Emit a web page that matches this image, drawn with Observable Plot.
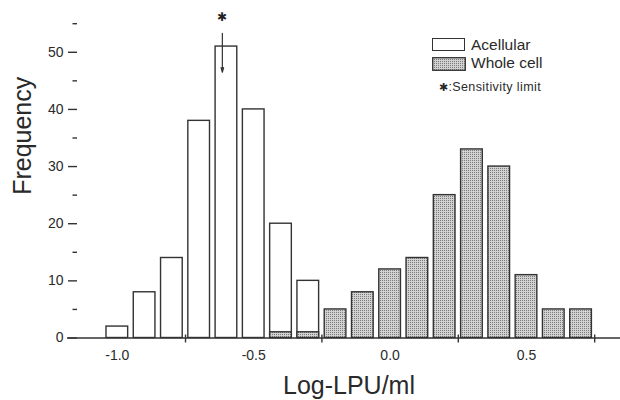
<!DOCTYPE html>
<html>
<head>
<meta charset="utf-8">
<script src="https://cdn.jsdelivr.net/npm/d3@7"></script>
<script src="https://cdn.jsdelivr.net/npm/@observablehq/plot@0.6"></script>
<style>
  html, body { margin: 0; padding: 0; background: white; }
  #wrap { position: relative; width: 620px; height: 400px; font-family: "Liberation Sans", Arial, sans-serif; color: #2a2a2a; }
  .box { position: absolute; width: 31px; height: 11px; border: 1.3px solid #333; background: white; }
  .sbox { position: absolute; }
  .lt { position: absolute; font-size: 15.5px; line-height: 1; white-space: nowrap; }
  .st { position: absolute; font-size: 12.5px; line-height: 1; white-space: nowrap; letter-spacing: 0.4px; }
</style>
</head>
<body>
<div id="wrap"></div>
<script>
// ---- data ----
const acellularBins = [-1.0, -0.9, -0.8, -0.7, -0.6, -0.5, -0.4, -0.3];
const acellularFreq = [2, 8, 14, 38, 51, 40, 20, 10];
const wholeCellBins = [-0.4, -0.3, -0.2, -0.1, 0.0, 0.1, 0.2, 0.3, 0.4, 0.5, 0.6, 0.7];
const wholeCellFreq = [1, 1, 5, 8, 12, 14, 25, 33, 30, 11, 5, 5];
const binWidth = 0.1;
const yMajorTicks = [0, 10, 20, 30, 40, 50];
const yMinorTicks = [5, 15, 25, 35, 45, 55];
const xLabelTicks = [-1.0, -0.5, 0.0, 0.5];
const xMarkTicks = [-0.75, -0.25, 0.25, 0.75];
const sensitivityLimit = -0.615;
const arrowFrom = 53.3, arrowTo = 46.5, starLevel = 56.2;
const seriesNames = ["Acellular", "Whole cell"];
const noteText = ":Sensitivity limit";

const aData = acellularBins.map((c, i) => ({c, v: acellularFreq[i]}));
const wData = wholeCellBins.map((c, i) => ({c, v: wholeCellFreq[i]}));

const barOpts = {
  x1: d => d.c - binWidth / 2, x2: d => d.c + binWidth / 2,
  y1: 0, y2: "v", insetLeft: 2.8, insetRight: 2.8,
  stroke: "#333", strokeWidth: 1.4
};

const plot = Plot.plot({
  width: 620, height: 400,
  marginLeft: 77, marginRight: 0, marginTop: 23.2, marginBottom: 62.5,
  x: {domain: [-1.146, 0.8446]},
  y: {domain: [0, 55]},
  style: {fontFamily: "'Liberation Sans', Arial, sans-serif", color: "#2a2a2a", background: "white", overflow: "visible"},
  marks: [
    Plot.rectY(aData, {...barOpts, fill: "white"}),
    Plot.rectY(wData, {...barOpts, fill: "url(#stipple)"}),
    Plot.ruleY([0], {insetLeft: -10, stroke: "#333", strokeWidth: 1.4}),
    Plot.axisY({ticks: yMajorTicks, tickSize: 9, tickPadding: 5, fontSize: 14, line: true, label: null, strokeWidth: 1.4, stroke: "#333"}),
    Plot.axisY({ticks: yMinorTicks, tickSize: 4.5, tickFormat: () => "", label: null, strokeWidth: 1.4, stroke: "#333"}),
    Plot.axisX({ticks: xLabelTicks, tickSize: 0, tickPadding: 12.5, tickFormat: d => d.toFixed(1), fontSize: 14, label: null}),
    Plot.axisX({ticks: xMarkTicks, tickSize: 8, dy: -3, tickFormat: () => "", label: null, strokeWidth: 1.4, stroke: "#333"}),
    Plot.text(["Frequency"], {text: d => d, frameAnchor: "left", rotate: -90, dx: -47, dy: 14, lineAnchor: "bottom", fontSize: 25}),
    Plot.text(["Log-LPU/ml"], {text: d => d, frameAnchor: "bottom", dy: 55.5, lineAnchor: "bottom", fontSize: 25}),
    Plot.arrow([{x: sensitivityLimit}], {x1: "x", x2: "x", y1: () => arrowFrom, y2: () => arrowTo, stroke: "#333", strokeWidth: 1.2, headLength: 6, headAngle: 30}),
    Plot.text([{x: sensitivityLimit}], {x: "x", y: () => starLevel, text: () => "✱", fontSize: 12, fill: "#222"})
  ]
});

const svg = d3.select(plot);
const pat = svg.insert("defs", ":first-child").append("pattern")
  .attr("id", "stipple").attr("width", 2).attr("height", 2).attr("patternUnits", "userSpaceOnUse");
pat.append("rect").attr("width", 2).attr("height", 2).attr("fill", "#d2d2d2");
pat.append("rect").attr("width", 1).attr("height", 1).attr("fill", "#7a7a7a");

const wrap = document.getElementById("wrap");
wrap.appendChild(plot);

// legend
const lg = d3.select(wrap);
lg.append("div").attr("class", "box").style("left", "432px").style("top", "38px");
const sb = lg.append("svg").attr("class", "sbox").attr("width", 34).attr("height", 14)
  .style("left", "432px").style("top", "57px");
sb.append("rect").attr("x", 0.7).attr("y", 0.7).attr("width", 32.6).attr("height", 12.6)
  .attr("fill", "url(#stipple)").attr("stroke", "#333").attr("stroke-width", 1.3);
lg.append("div").attr("class", "lt").style("left", "471px").style("top", "37px").text(seriesNames[0]);
lg.append("div").attr("class", "lt").style("left", "471px").style("top", "55px").text(seriesNames[1]);
lg.append("div").attr("class", "st").style("left", "439px").style("top", "81px").html("<span style='font-size:11px'>✱</span>" + noteText);
</script>
</body>
</html>
